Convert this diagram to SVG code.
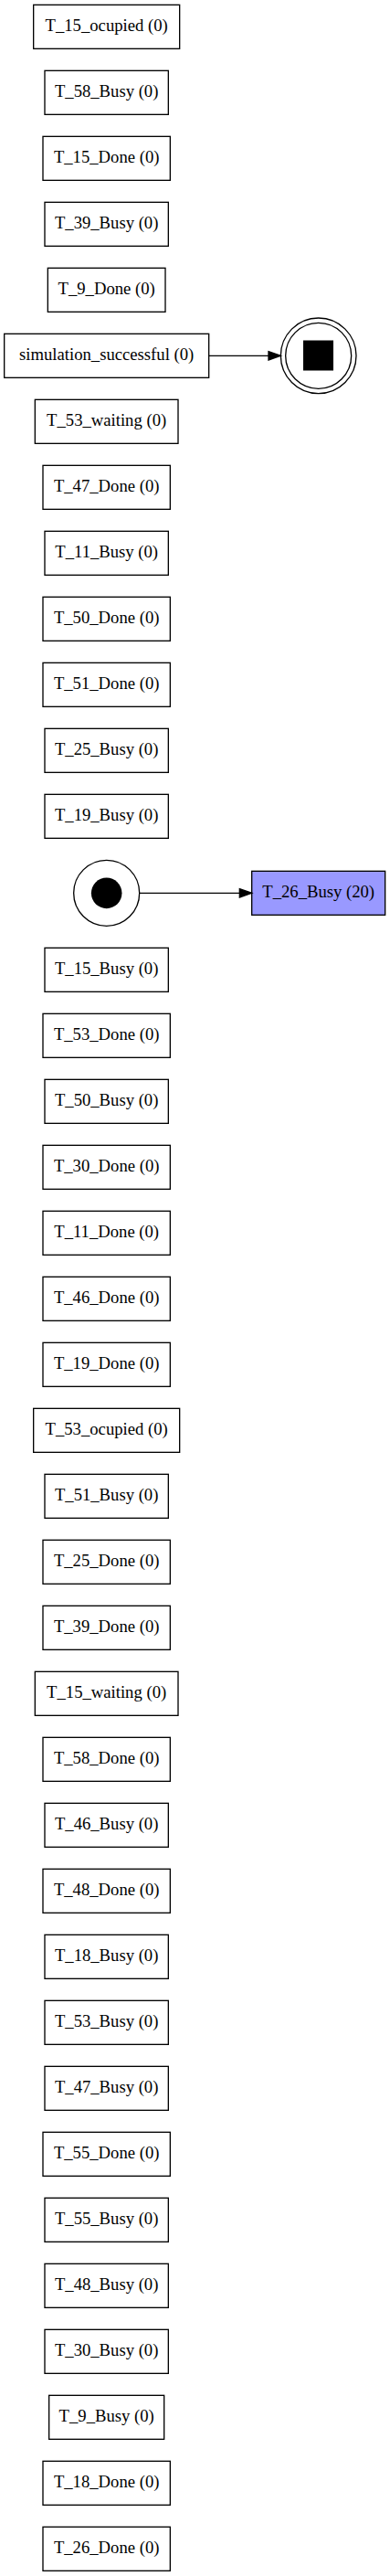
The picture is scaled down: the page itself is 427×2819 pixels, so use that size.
<svg xmlns="http://www.w3.org/2000/svg" width="427" height="2819" viewBox="0 0 427 2819">
<style>
.n rect{fill:#fff;stroke:#000;stroke-width:1.33}
.n text{font-family:"Liberation Serif","Times New Roman",serif;font-size:18.67px;fill:#000;text-anchor:middle}
.e line{stroke:#000;stroke-width:1.33}
.e polygon{fill:#000;stroke:#000;stroke-width:1.33}
</style>
<rect width="427" height="2819" fill="#fff"/>
<g id="T_15_ocupied" class="n"><rect x="36.67" y="5.33" width="160" height="48"/><text x="116.67" y="34">T_15_ocupied (0)</text></g>
<g id="T_58_Busy" class="n"><rect x="49" y="77.33" width="135.33" height="48"/><text x="116.67" y="106">T_58_Busy (0)</text></g>
<g id="T_15_Done" class="n"><rect x="47" y="149.33" width="139.33" height="48"/><text x="116.67" y="178">T_15_Done (0)</text></g>
<g id="T_39_Busy" class="n"><rect x="49" y="221.33" width="135.33" height="48"/><text x="116.67" y="250">T_39_Busy (0)</text></g>
<g id="T_9_Done" class="n"><rect x="52.33" y="293.33" width="128.67" height="48"/><text x="116.67" y="322">T_9_Done (0)</text></g>
<g id="simulation_successful" class="n"><rect x="4.67" y="365.33" width="224" height="48"/><text x="116.67" y="394">simulation_successful (0)</text></g>
<g id="T_53_waiting" class="n"><rect x="38.33" y="437.33" width="156.67" height="48"/><text x="116.67" y="466">T_53_waiting (0)</text></g>
<g id="T_47_Done" class="n"><rect x="47" y="509.33" width="139.33" height="48"/><text x="116.67" y="538">T_47_Done (0)</text></g>
<g id="T_11_Busy" class="n"><rect x="49" y="581.33" width="135.33" height="48"/><text x="116.67" y="610">T_11_Busy (0)</text></g>
<g id="T_50_Done" class="n"><rect x="47" y="653.33" width="139.33" height="48"/><text x="116.67" y="682">T_50_Done (0)</text></g>
<g id="T_51_Done" class="n"><rect x="47" y="725.33" width="139.33" height="48"/><text x="116.67" y="754">T_51_Done (0)</text></g>
<g id="T_25_Busy" class="n"><rect x="49" y="797.33" width="135.33" height="48"/><text x="116.67" y="826">T_25_Busy (0)</text></g>
<g id="T_19_Busy" class="n"><rect x="49" y="869.33" width="135.33" height="48"/><text x="116.67" y="898">T_19_Busy (0)</text></g>
<g id="start"><circle cx="116.67" cy="977.33" r="36" fill="none" stroke="#000" stroke-width="1.33"/><circle cx="116.67" cy="977.33" r="16.8" fill="#000"/></g>
<g id="end"><circle cx="348.67" cy="389.33" r="41.33" fill="none" stroke="#000" stroke-width="1.33"/><circle cx="348.67" cy="389.33" r="36" fill="none" stroke="#000" stroke-width="1.33"/><rect x="332" y="372.5" width="33" height="33" fill="#000"/></g>
<g id="T_26_Busy" class="n"><rect x="275.67" y="953.33" width="146" height="48" style="fill:#9999ff"/><text x="348.67" y="982">T_26_Busy (20)</text></g>
<g id="T_15_Busy" class="n"><rect x="49" y="1037.33" width="135.33" height="48"/><text x="116.67" y="1066">T_15_Busy (0)</text></g>
<g id="T_53_Done" class="n"><rect x="47" y="1109.33" width="139.33" height="48"/><text x="116.67" y="1138">T_53_Done (0)</text></g>
<g id="T_50_Busy" class="n"><rect x="49" y="1181.33" width="135.33" height="48"/><text x="116.67" y="1210">T_50_Busy (0)</text></g>
<g id="T_30_Done" class="n"><rect x="47" y="1253.33" width="139.33" height="48"/><text x="116.67" y="1282">T_30_Done (0)</text></g>
<g id="T_11_Done" class="n"><rect x="47" y="1325.33" width="139.33" height="48"/><text x="116.67" y="1354">T_11_Done (0)</text></g>
<g id="T_46_Done" class="n"><rect x="47" y="1397.33" width="139.33" height="48"/><text x="116.67" y="1426">T_46_Done (0)</text></g>
<g id="T_19_Done" class="n"><rect x="47" y="1469.33" width="139.33" height="48"/><text x="116.67" y="1498">T_19_Done (0)</text></g>
<g id="T_53_ocupied" class="n"><rect x="36.67" y="1541.33" width="160" height="48"/><text x="116.67" y="1570">T_53_ocupied (0)</text></g>
<g id="T_51_Busy" class="n"><rect x="49" y="1613.33" width="135.33" height="48"/><text x="116.67" y="1642">T_51_Busy (0)</text></g>
<g id="T_25_Done" class="n"><rect x="47" y="1685.33" width="139.33" height="48"/><text x="116.67" y="1714">T_25_Done (0)</text></g>
<g id="T_39_Done" class="n"><rect x="47" y="1757.33" width="139.33" height="48"/><text x="116.67" y="1786">T_39_Done (0)</text></g>
<g id="T_15_waiting" class="n"><rect x="38.33" y="1829.33" width="156.67" height="48"/><text x="116.67" y="1858">T_15_waiting (0)</text></g>
<g id="T_58_Done" class="n"><rect x="47" y="1901.33" width="139.33" height="48"/><text x="116.67" y="1930">T_58_Done (0)</text></g>
<g id="T_46_Busy" class="n"><rect x="49" y="1973.33" width="135.33" height="48"/><text x="116.67" y="2002">T_46_Busy (0)</text></g>
<g id="T_48_Done" class="n"><rect x="47" y="2045.33" width="139.33" height="48"/><text x="116.67" y="2074">T_48_Done (0)</text></g>
<g id="T_18_Busy" class="n"><rect x="49" y="2117.33" width="135.33" height="48"/><text x="116.67" y="2146">T_18_Busy (0)</text></g>
<g id="T_53_Busy" class="n"><rect x="49" y="2189.33" width="135.33" height="48"/><text x="116.67" y="2218">T_53_Busy (0)</text></g>
<g id="T_47_Busy" class="n"><rect x="49" y="2261.33" width="135.33" height="48"/><text x="116.67" y="2290">T_47_Busy (0)</text></g>
<g id="T_55_Done" class="n"><rect x="47" y="2333.33" width="139.33" height="48"/><text x="116.67" y="2362">T_55_Done (0)</text></g>
<g id="T_55_Busy" class="n"><rect x="49" y="2405.33" width="135.33" height="48"/><text x="116.67" y="2434">T_55_Busy (0)</text></g>
<g id="T_48_Busy" class="n"><rect x="49" y="2477.33" width="135.33" height="48"/><text x="116.67" y="2506">T_48_Busy (0)</text></g>
<g id="T_30_Busy" class="n"><rect x="49" y="2549.33" width="135.33" height="48"/><text x="116.67" y="2578">T_30_Busy (0)</text></g>
<g id="T_9_Busy" class="n"><rect x="53.67" y="2621.33" width="126" height="48"/><text x="116.67" y="2650">T_9_Busy (0)</text></g>
<g id="T_18_Done" class="n"><rect x="47" y="2693.33" width="139.33" height="48"/><text x="116.67" y="2722">T_18_Done (0)</text></g>
<g id="T_26_Done" class="n"><rect x="47" y="2765.33" width="139.33" height="48"/><text x="116.67" y="2794">T_26_Done (0)</text></g>
<g id="edges" class="e">
<line x1="228.67" y1="389.33" x2="294" y2="389.33"/><polygon points="294,384.67 307.33,389.33 294,394"/>
<line x1="152.67" y1="977.33" x2="262.33" y2="977.33"/><polygon points="262.33,972.67 275.67,977.33 262.33,982"/>
</g>
</svg>
